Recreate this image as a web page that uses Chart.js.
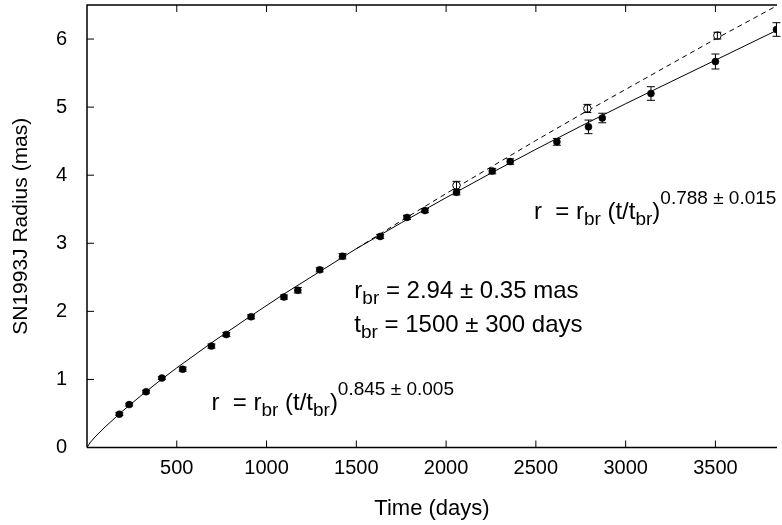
<!DOCTYPE html>
<html>
<head>
<meta charset="utf-8">
<script src="https://cdn.jsdelivr.net/npm/chart.js@4.4.1/dist/chart.umd.min.js"></script>
<style>
html, body { margin: 0; padding: 0; background: #fff; }
</style>
</head>
<body>
<canvas id="chart" width="782" height="525"></canvas>
<script>
// measured epochs (days) and radii (mas)
const filledT = [180, 235, 329, 417, 533, 693, 776, 914, 1097, 1174, 1296, 1423, 1633, 1782, 1882, 2058, 2257, 2357, 2617, 2793, 2870, 3141, 3500, 3840];
const filledR = [0.49, 0.63, 0.82, 1.02, 1.15, 1.49, 1.66, 1.92, 2.21, 2.31, 2.61, 2.81, 3.10, 3.38, 3.48, 3.75, 4.06, 4.20, 4.49, 4.71, 4.84, 5.20, 5.67, 6.14];
const filledErr = [0.02, 0.02, 0.02, 0.02, 0.03, 0.03, 0.03, 0.03, 0.03, 0.04, 0.03, 0.04, 0.03, 0.03, 0.03, 0.04, 0.04, 0.04, 0.05, 0.10, 0.07, 0.10, 0.11, 0.10];

const openT = [2058, 2787, 3511];
const openR = [3.85, 4.98, 6.05];
const openErr = [0.06, 0.06, 0.05];

// fitted curves
const solidT = [0, 20, 50, 100, 200, 300, 400, 500, 700, 900, 1100, 1300, 1500, 1750, 2000, 2250, 2500, 2750, 3000, 3250, 3500, 3843];
const solidR = [0, 0.08, 0.17, 0.30, 0.54, 0.76, 0.97, 1.17, 1.55, 1.91, 2.26, 2.59, 2.92, 3.30, 3.67, 4.03, 4.38, 4.72, 5.05, 5.37, 5.69, 6.13];
const dashT = [1500, 1750, 2000, 2250, 2500, 2750, 3000, 3250, 3500, 3843];
const dashR = [2.92, 3.33, 3.73, 4.12, 4.51, 4.89, 5.26, 5.63, 6.00, 6.49];

const xTicks = [500, 1000, 1500, 2000, 2500, 3000, 3500];
const yTicks = [0, 1, 2, 3, 4, 5, 6];

const FONT = '"Liberation Sans", Arial, Helvetica, sans-serif';

function pts(xs, ys) {
    return xs.map((x, i) => ({ x: x, y: ys[i] }));
}

const errorBars = {
    id: 'errorBars',
    afterDatasetsDraw(chart) {
        const ctx = chart.ctx;
        const xs = chart.scales.x, ys = chart.scales.y;
        ctx.save();
        ctx.strokeStyle = '#000';
        ctx.lineWidth = 1;
        chart.data.datasets.forEach(ds => {
            if (!ds.errors) return;
            ds.data.forEach((p, i) => {
                const px = xs.getPixelForValue(p.x);
                const y1 = ys.getPixelForValue(p.y - ds.errors[i]);
                const y2 = ys.getPixelForValue(p.y + ds.errors[i]);
                ctx.beginPath();
                ctx.moveTo(px, y1); ctx.lineTo(px, y2);
                ctx.moveTo(px - 4, y1); ctx.lineTo(px + 4, y1);
                ctx.moveTo(px - 4, y2); ctx.lineTo(px + 4, y2);
                ctx.stroke();
            });
        });
        ctx.restore();
    }
};

const frame = {
    id: 'frame',
    afterDraw(chart) {
        const ctx = chart.ctx;
        const a = chart.chartArea;
        const xs = chart.scales.x, ys = chart.scales.y;
        ctx.save();
        ctx.strokeStyle = '#000';
        ctx.lineWidth = 1.5;
        ctx.beginPath();
        ctx.moveTo(a.left, a.bottom); ctx.lineTo(a.left, a.top); ctx.lineTo(a.right, a.top);
        ctx.moveTo(a.left, a.bottom); ctx.lineTo(a.right, a.bottom);
        ctx.stroke();
        ctx.lineWidth = 1;
        ctx.beginPath();
        xTicks.forEach(v => {
            const px = xs.getPixelForValue(v);
            ctx.moveTo(px, a.bottom); ctx.lineTo(px, a.bottom - 7);
            ctx.moveTo(px, a.top); ctx.lineTo(px, a.top + 7);
        });
        yTicks.forEach(v => {
            const py = ys.getPixelForValue(v);
            ctx.moveTo(a.left, py); ctx.lineTo(a.left + 7, py);
        });
        ctx.stroke();
        ctx.restore();
    }
};

// text with sub/superscripts, anchored in data coordinates
const notes = [
    { x: 2489, y: 3.36, parts: [['r  = r', 'n'], ['br', 'sub'], [' (t/t', 'n'], ['br', 'sub'], [')', 'n'], ['0.788 \u00b1 0.015', 'sup']] },
    { x: 1489, y: 2.19, parts: [['r', 'n'], ['br', 'sub'], [' = 2.94 \u00b1 0.35 mas', 'n']] },
    { x: 1489, y: 1.69, parts: [['t', 'n'], ['br', 'sub'], [' = 1500 \u00b1 300 days', 'n']] },
    { x: 693, y: 0.55, parts: [['r  = r', 'n'], ['br', 'sub'], [' (t/t', 'n'], ['br', 'sub'], [')', 'n'], ['0.845 \u00b1 0.005', 'sup']] }
];

const labels = {
    id: 'labels',
    afterDraw(chart) {
        const ctx = chart.ctx;
        const xs = chart.scales.x, ys = chart.scales.y;
        ctx.save();
        ctx.fillStyle = '#000';
        ctx.textBaseline = 'alphabetic';
        notes.forEach(n => {
            let px = xs.getPixelForValue(n.x);
            const py = ys.getPixelForValue(n.y);
            n.parts.forEach(([t, k]) => {
                let off = 0;
                if (k === 'n') ctx.font = '24px ' + FONT;
                else { ctx.font = '19px ' + FONT; off = k === 'sub' ? 6 : -15; }
                ctx.fillText(t, px, py + off);
                px += ctx.measureText(t).width;
            });
        });
        ctx.restore();
    }
};

new Chart(document.getElementById('chart'), {
    type: 'scatter',
    data: {
        datasets: [
            {
                data: pts(filledT, filledR),
                errors: filledErr,
                pointRadius: 3.5,
                pointBackgroundColor: '#000',
                pointBorderColor: '#000',
                pointBorderWidth: 0.5,
                showLine: false
            },
            {
                data: pts(openT, openR),
                errors: openErr,
                pointRadius: 3.8,
                pointBackgroundColor: '#fff',
                pointBorderColor: '#000',
                pointBorderWidth: 1,
                showLine: false
            },
            {
                data: pts(solidT, solidR),
                showLine: true,
                pointRadius: 0,
                borderColor: '#000',
                borderWidth: 1,
                tension: 0
            },
            {
                data: pts(dashT, dashR),
                showLine: true,
                pointRadius: 0,
                borderColor: '#000',
                borderWidth: 1,
                borderDash: [5, 4],
                tension: 0
            }
        ]
    },
    options: {
        responsive: false,
        animation: false,
        devicePixelRatio: 1,
        layout: { padding: { top: 3.5, right: 0, left: 0, bottom: 0 } },
        plugins: {
            legend: { display: false },
            tooltip: { enabled: false }
        },
        scales: {
            x: {
                type: 'linear',
                min: 0,
                max: 3843,
                afterBuildTicks: s => { s.ticks = xTicks.map(v => ({ value: v })); },
                afterFit: s => { s.height = 77.5; s.paddingLeft = 0; s.paddingRight = 0; },
                grid: { display: false, drawTicks: false },
                border: { display: false },
                ticks: { color: '#000', font: { family: FONT, size: 20 }, padding: 9, maxRotation: 0, callback: v => String(v) },
                title: { display: true, text: 'Time (days)', color: '#000', font: { family: FONT, size: 22 }, padding: { top: 0, bottom: 3 } }
            },
            y: {
                type: 'linear',
                min: 0,
                max: 6.5,
                afterBuildTicks: s => { s.ticks = yTicks.map(v => ({ value: v })); },
                afterFit: s => { s.width = 87; s.paddingTop = 0; s.paddingBottom = 0; },
                grid: { display: false, drawTicks: false },
                border: { display: false },
                ticks: { color: '#000', font: { family: FONT, size: 20 }, padding: 20, callback: v => String(v) },
                title: { display: true, text: 'SN1993J Radius (mas)', color: '#000', font: { family: FONT, size: 21 }, padding: { top: 9, bottom: 0 } }
            }
        }
    },
    plugins: [errorBars, frame, labels]
});
</script>
</body>
</html>
